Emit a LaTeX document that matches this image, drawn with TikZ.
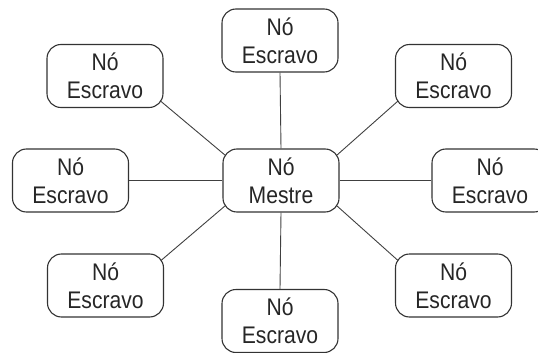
\documentclass[tikz,border=0pt]{standalone}
\usepackage{fontspec}
\setmainfont[FakeStretch=0.88]{Liberation Sans}
\usetikzlibrary{backgrounds,calc}
\begin{document}
\begin{tikzpicture}[x=1pt,y=-1pt,
  box/.style={draw=black!80,line width=1.1pt,rounded corners=14pt,fill=white,
    minimum width=116pt,minimum height=63pt,align=center,inner sep=0pt,
    font=\fontsize{24}{28}\selectfont,text=black!85},
  link/.style={draw=black!75,line width=0.9pt}]
\useasboundingbox (0,0) rectangle (538,353);
\node[box] (c)  at (281,180.5) {Nó\\Mestre};
\node[box] (t)  at (280,40.5)  {Nó\\Escravo};
\node[box] (tl) at (105,76)    {Nó\\Escravo};
\node[box] (tr) at (453.5,76)  {Nó\\Escravo};
\node[box] (l)  at (70.5,180.5) {Nó\\Escravo};
\node[box] (r)  at (490,180.5) {Nó\\Escravo};
\node[box] (bl) at (105.5,285.5) {Nó\\Escravo};
\node[box] (b)  at (280,321)   {Nó\\Escravo};
\node[box] (br) at (453.5,285.5) {Nó\\Escravo};
\begin{scope}[on background layer]
\draw[link] (c.north) -- (t.south);
\draw[link] (c.south) -- (b.north);
\draw[link] (c.west) -- (l.east);
\draw[link] (c.east) -- (r.west);
\draw[link] ($(c.north west)+(3,7)$) -- ($(tl.south east)+(-3,-7)$);
\draw[link] ($(c.north east)+(-3,7)$) -- ($(tr.south west)+(3,-7)$);
\draw[link] ($(c.south west)+(3,-7)$) -- ($(bl.north east)+(-3,7)$);
\draw[link] ($(c.south east)+(-3,-7)$) -- ($(br.north west)+(3,7)$);
\end{scope}
\end{tikzpicture}
\end{document}
